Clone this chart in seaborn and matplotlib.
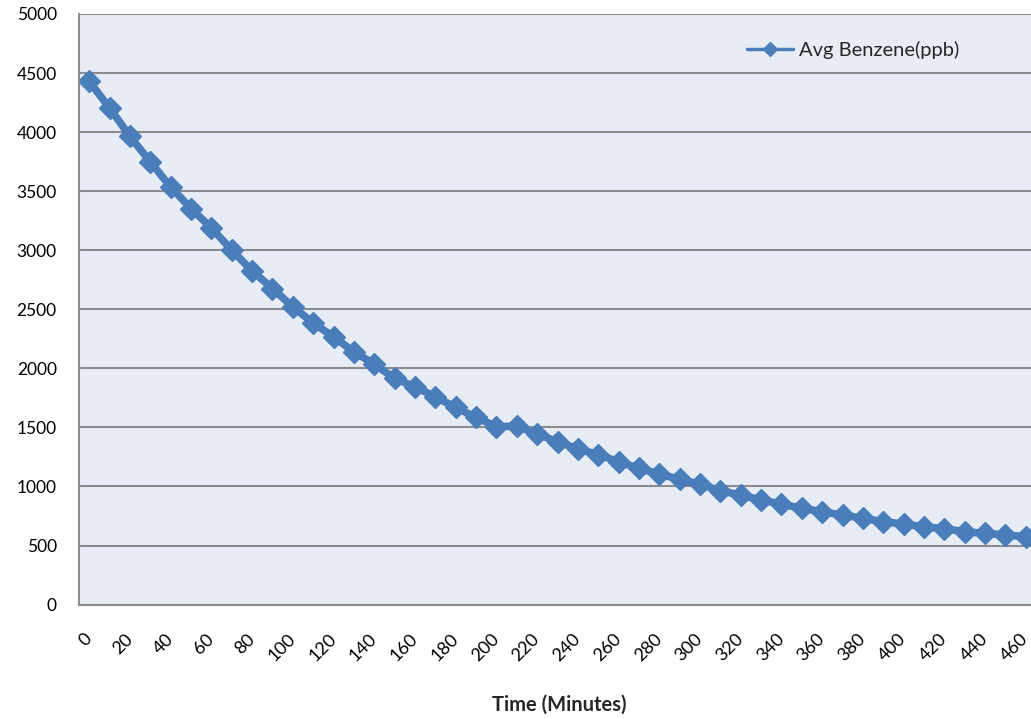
import numpy as np
import pandas as pd
import matplotlib
matplotlib.use('Agg')
import matplotlib.pyplot as plt
import seaborn as sns
from matplotlib.lines import Line2D
from matplotlib.ticker import FixedLocator

minutes = list(range(0, 470, 10))
benzene = [4430, 4205, 3965, 3748, 3536, 3353, 3189, 3001, 2826, 2676,
           2521, 2385, 2267, 2140, 2036, 1915, 1844, 1759, 1669, 1585,
           1506, 1511, 1444, 1379, 1318, 1270, 1209, 1153, 1105, 1060,
           1018, 964, 927, 885, 851, 815, 786, 758, 730, 702,
           682, 659, 642, 617, 603, 589, 575]
x_labels = list(range(0, 480, 20))
y_ticks = list(range(0, 5500, 500))
series_name = 'Avg Benzene(ppb)'

df = pd.DataFrame({'Time (Minutes)': minutes, series_name: benzene})

sns.set_theme(style='whitegrid')
plt.rcParams['font.family'] = ['Lato', 'DejaVu Sans']

blue = '#4A7EBB'
grid_gray = '#8C8C8C'

fig = plt.figure(figsize=(10.31, 7.19), dpi=100)
fig.patch.set_facecolor('white')
ax = fig.add_axes([79 / 1031, 1 - 604.6 / 719, 957 / 1031, 590.6 / 719])
ax.set_facecolor('#E8EDF5')

sns.lineplot(data=df, x='Time (Minutes)', y=series_name, ax=ax, color=blue,
             linewidth=5.5, marker='D', markersize=11, markeredgecolor=blue,
             markeredgewidth=1, clip_on=False)

ax.set_xlim(-5, 465)
ax.set_ylim(0, 5000)
ax.yaxis.set_major_locator(FixedLocator(y_ticks))
ax.xaxis.set_major_locator(FixedLocator(x_labels))
ax.xaxis.set_minor_locator(FixedLocator(np.arange(-5, 470, 10)))

ax.grid(False)
ax.yaxis.grid(True, color=grid_gray, linewidth=1.5)
for side in ['top', 'right']:
    ax.spines[side].set_visible(False)
for side in ['left', 'bottom']:
    ax.spines[side].set_color(grid_gray)
    ax.spines[side].set_linewidth(1.5)

ax.tick_params(axis='y', length=0, pad=16, labelsize=12.5, colors='black')
ax.tick_params(axis='x', which='major', length=0, pad=23, labelsize=13,
               colors='black')
ax.tick_params(axis='x', which='minor', direction='in', length=5,
               width=1, color=grid_gray)
plt.setp(ax.get_xticklabels(), rotation=45, ha='right', va='center',
         rotation_mode='anchor')

ax.set_ylabel('')
ax.set_xlabel('Time (Minutes)', fontsize=14.5, fontweight='bold')
ax.xaxis.label.set_va('center')
ax.xaxis.set_label_coords(480 / 957, -(705 - 604.6) / 590.6)

handle = Line2D([], [], color=blue, linewidth=2.5, marker='D', markersize=7,
                markeredgecolor=blue)
leg = ax.legend([handle], [series_name], frameon=False, loc='center left',
                bbox_to_anchor=(747 / 1031, 1 - 50 / 719),
                bbox_transform=fig.transFigure, borderpad=0, borderaxespad=0,
                handlelength=2.3, handletextpad=0.3, fontsize=14.5)

fig.savefig('out.png', dpi=100)
